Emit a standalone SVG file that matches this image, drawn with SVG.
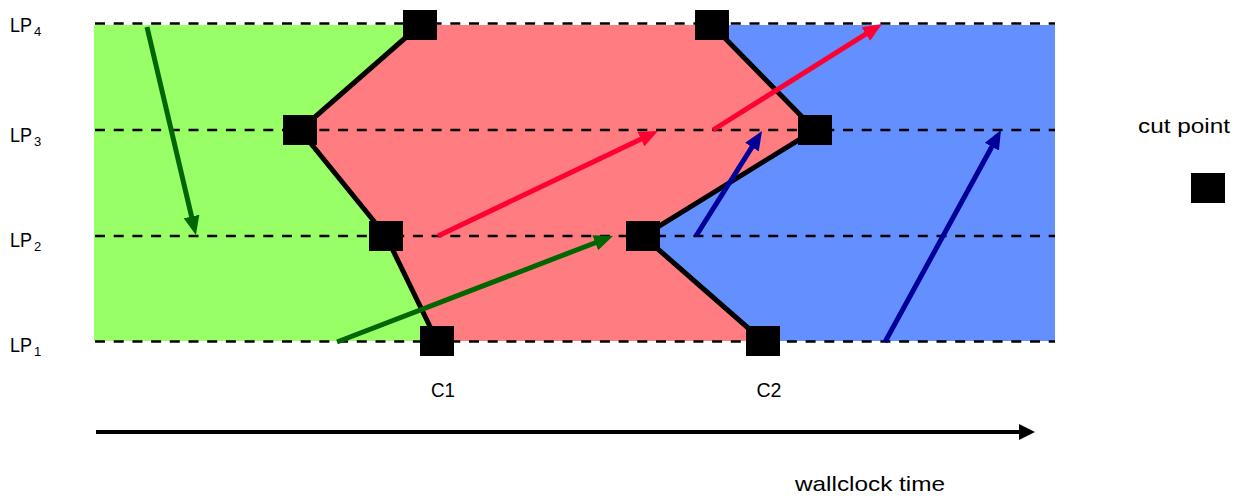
<svg xmlns="http://www.w3.org/2000/svg" width="1248" height="498" viewBox="0 0 1248 498">
  <defs>
    <style>
      text { font-family: "Liberation Sans", Arial, sans-serif; fill: #000; }
      .lp { font-size: 21px; }
      .sub { font-size: 13px; }
      .lbl { font-size: 20px; }
      .lane { stroke: #000; stroke-width: 2.5; stroke-dasharray: 10 8.7; fill: none; }
      .cut { stroke: #000; stroke-width: 5; fill: none; stroke-linejoin: miter; }
      .pt { fill: #000; }
      .msg { stroke-width: 5; fill: none; }
    </style>
    <marker id="headGreen" viewBox="0 0 19 16" markerUnits="userSpaceOnUse" markerWidth="19" markerHeight="16" refX="5" refY="8" orient="auto">
      <path d="M0,0 L19,8 L0,16 Z" fill="#006600"/>
    </marker>
    <marker id="headRed" viewBox="0 0 19 16" markerUnits="userSpaceOnUse" markerWidth="19" markerHeight="16" refX="5" refY="8" orient="auto">
      <path d="M0,0 L19,8 L0,16 Z" fill="#FF0033"/>
    </marker>
    <marker id="headBlue" viewBox="0 0 19 16" markerUnits="userSpaceOnUse" markerWidth="19" markerHeight="16" refX="5" refY="8" orient="auto">
      <path d="M0,0 L19,8 L0,16 Z" fill="#000099"/>
    </marker>
    <marker id="headBlack" viewBox="0 0 16 16" markerUnits="userSpaceOnUse" markerWidth="16" markerHeight="16" refX="2" refY="8" orient="auto">
      <path d="M0,0 L16,8 L0,16 Z" fill="#000"/>
    </marker>
  </defs>

  <!-- epoch regions between cuts -->
  <g id="regions">
    <polygon points="712,25 1055,25 1055,341 763,341 643,236 815,130" fill="#638FFF"/>
    <polygon points="420,25 712,25 815,130 643,236 763,341 437,341 386,236 300,130" fill="#FF7C80"/>
    <polygon points="94,25 420,25 300,130 386,236 437,341 94,341" fill="#99FF66"/>
  </g>

  <!-- logical process timelines -->
  <g id="lanes">
    <line class="lane" x1="95" y1="23.5" x2="1055" y2="23.5"/>
    <line class="lane" x1="95" y1="130" x2="1055" y2="130"/>
    <line class="lane" x1="95" y1="236" x2="1055" y2="236"/>
    <line class="lane" x1="95" y1="341.5" x2="1055" y2="341.5"/>
  </g>

  <g id="lane-labels">
    <text class="lp" x="10" y="32" textLength="22" lengthAdjust="spacingAndGlyphs">LP</text>
    <text class="sub" x="34" y="36">4</text>
    <text class="lp" x="10" y="142" textLength="22" lengthAdjust="spacingAndGlyphs">LP</text>
    <text class="sub" x="34" y="146">3</text>
    <text class="lp" x="10" y="247" textLength="22" lengthAdjust="spacingAndGlyphs">LP</text>
    <text class="sub" x="34" y="251">2</text>
    <text class="lp" x="10" y="352" textLength="22" lengthAdjust="spacingAndGlyphs">LP</text>
    <text class="sub" x="34" y="356">1</text>
  </g>

  <!-- cut lines and messages -->
  <g id="connectors">
    <polyline class="cut" points="420,25 300,130 386,236 437,341"/>
    <polyline class="cut" points="712,25 815,130 643,236 763,341"/>

    <line class="msg" stroke="#006600" x1="147" y1="27" x2="192.7" y2="221.4" marker-end="url(#headGreen)"/>
    <line class="msg" stroke="#006600" x1="337" y1="342" x2="599.9" y2="241" marker-end="url(#headGreen)"/>
    <line class="msg" stroke="#FF0033" x1="438" y1="236" x2="645.4" y2="137" marker-end="url(#headRed)"/>
    <line class="msg" stroke="#FF0033" x1="713" y1="130" x2="870.1" y2="31.4" marker-end="url(#headRed)"/>
    <line class="msg" stroke="#000099" x1="696" y1="236" x2="754.6" y2="142.9" marker-end="url(#headBlue)"/>
    <line class="msg" stroke="#000099" x1="885" y1="342" x2="994.3" y2="142.3" marker-end="url(#headBlue)"/>

    <line stroke="#000" stroke-width="4" x1="96" y1="432" x2="1021" y2="432" marker-end="url(#headBlack)"/>
  </g>

  <!-- cut points, cut C1 -->
  <g id="c1">
    <rect class="pt" x="403" y="10" width="34" height="30"/>
    <rect class="pt" x="283" y="115" width="34" height="30"/>
    <rect class="pt" x="369" y="221" width="34" height="30"/>
    <rect class="pt" x="420" y="326" width="34" height="30"/>
    <text class="lbl" x="443" y="397" text-anchor="middle" textLength="24" lengthAdjust="spacingAndGlyphs">C1</text>
  </g>

  <!-- cut points, cut C2 -->
  <g id="c2">
    <rect class="pt" x="695" y="10" width="34" height="30"/>
    <rect class="pt" x="798" y="115" width="34" height="30"/>
    <rect class="pt" x="626" y="221" width="34" height="30"/>
    <rect class="pt" x="746" y="326" width="34" height="30"/>
    <text class="lbl" x="769" y="397" text-anchor="middle" textLength="25" lengthAdjust="spacingAndGlyphs">C2</text>
  </g>

  <g id="legend">
    <text class="lbl" x="1138" y="133" textLength="92" lengthAdjust="spacingAndGlyphs">cut point</text>
    <rect class="pt" x="1191" y="173" width="34" height="30"/>
  </g>

  <g id="axis-label">
    <text x="795" y="491" font-size="21" textLength="150" lengthAdjust="spacingAndGlyphs">wallclock time</text>
  </g>
</svg>
